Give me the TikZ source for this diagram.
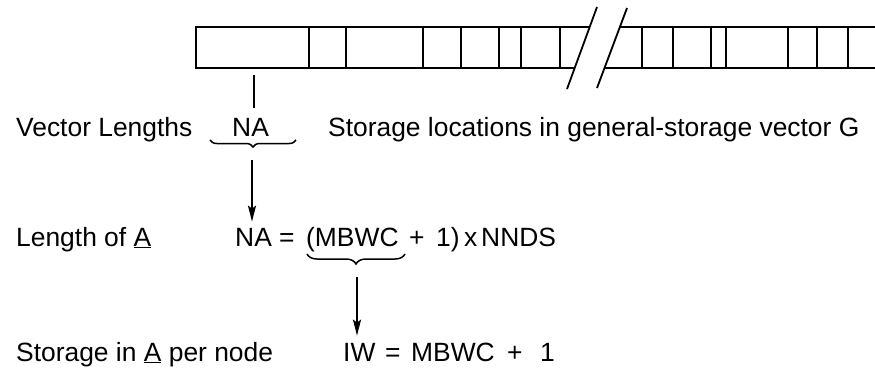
\documentclass[tikz,border=0pt]{standalone}
\usepackage{fontspec}
\setmainfont{Liberation Sans}
\usetikzlibrary{arrows.meta,decorations.pathreplacing}
\begin{document}
\begin{tikzpicture}[x=1pt,y=-1pt,
  txt/.style={anchor=base west,inner sep=0pt,font=\fontsize{26.4}{30}\selectfont},
  strip/.style={line width=2.2pt},
  slash/.style={line width=1.8pt},
  brc/.style={decorate,decoration={brace,mirror,amplitude=#1},line width=1.5pt},
  arr/.style={line width=1.9pt,-{Stealth[length=16pt,width=8pt,inset=3pt]}}]
\useasboundingbox (0,0) rectangle (875,373);

% storage strip
\draw[strip] (589.7,27) -- (196,27) -- (196,68) -- (574.7,68);
\draw[strip] (619.9,27) -- (875,27);
\draw[strip] (604.5,68) -- (875,68);
\foreach \x in {309,346,423,461,499,521,560,642,673,711,726,788,817,848}
  \draw[strip] (\x,27) -- (\x,68);
\draw[slash] (597,7) -- (567,89);
\draw[slash] (627,8) -- (597,88);

% texts
\node[txt] (vl) at (16,136) {Vector Lengths};
\node[txt] (na1) at (232,136) {NA};
\node[txt] (sl) at (328,136) {Storage locations in general-storage vector G};

\node[txt] (la) at (16,246) {Length of \underline{A}};
\node[txt] (na2) at (235,246) {NA};
\node[txt] (eq2) at (279,246) {=};
\node[txt] (mb2) at (306,246) {(MBWC};
\node[txt] (pl2) at (409,246) {+};
\node[txt] (one2) at (436,246) {1)};
\node[txt] (x2) at (464,246) {x};
\node[txt] (nn2) at (481,246) {NNDS};

\node[txt] (sa) at (16,361) {Storage in \underline{A} per node};
\node[txt] (iw) at (343,361) {IW};
\node[txt] (eq3) at (385,361) {=};
\node[txt] (mb3) at (411,361) {MBWC};
\node[txt] (pl3) at (507,361) {+};
\node[txt] (one3) at (540,361) {1};

% tick from strip to NA
\coordinate (tk1) at (254,75);
\coordinate (tk2) at (254,108);
\draw[slash] (tk1) -- (tk2);

% braces and arrows
\coordinate (b1l) at (210,140);
\coordinate (b1r) at (296,140);
\draw[brc=7pt] (b1l) -- (b1r);
\coordinate (a1) at (252,160);
\draw[arr,shorten >=6pt] (a1) -- (a1 |- na2.north);

\coordinate (b2l) at (307,254);
\coordinate (b2r) at (405,254);
\draw[brc=10pt] (b2l) -- (b2r);
\coordinate (a2) at (357,277);
\draw[arr,shorten >=7pt] (a2) -- (a2 |- iw.north);
\end{tikzpicture}
\end{document}
